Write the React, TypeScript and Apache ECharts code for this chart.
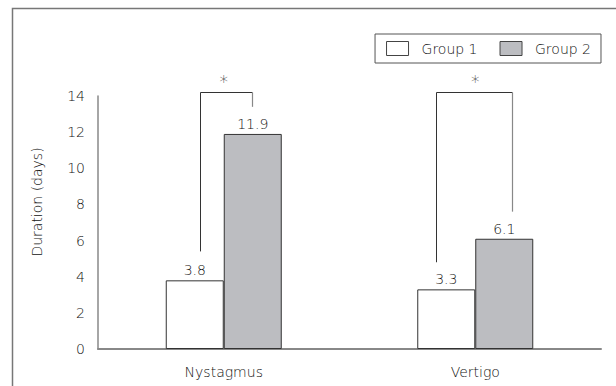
import React, { useEffect, useRef } from "react";
import * as echarts from "echarts";

const categories = ["Nystagmus", "Vertigo"];
const group1 = [3.8, 3.3];
const group2 = [11.9, 6.1];
const yTicks = [0, 2, 4, 6, 8, 10, 12, 14];
// significance brackets (value units)
const bracketTop = [14.2, 14.2];
const bracketLeftEnd = [5.4, 4.8];
const bracketRightEnd = [13.4, 7.6];
const bracketLabel = ["*", "*"];

const FONT = "DejaVu Sans";
const FW = 300;

export default function App() {
  const ref = useRef<HTMLDivElement>(null);
  useEffect(() => {
    if (!ref.current) return;
    const chart = echarts.init(ref.current, null, { renderer: "svg" });
    const leftOff = [-24, -39];
    const rightOff = [28, 37];
    const txt = { fontFamily: FONT, fontWeight: FW, color: "#111" };
    chart.setOption({
      animation: false,
      backgroundColor: "#fff",
      textStyle: { fontFamily: FONT, fontWeight: FW },
      grid: { left: 98, right: 15, top: 96, bottom: 37 },
      legend: {
        right: 15,
        top: 34,
        padding: [7, 10, 7, 11],
        borderColor: "#555",
        borderWidth: 1,
        itemWidth: 22,
        itemHeight: 14,
        itemGap: 22,
        icon: "rect",
        itemStyle: { borderWidth: 1, borderColor: "#444" },
        textStyle: { ...txt, fontSize: 14, padding: [0, 0, 0, 8] },
        data: ["Group 1", "Group 2"],
      },
      xAxis: {
        type: "category",
        data: categories,
        axisLine: { lineStyle: { color: "#888", width: 2 } },
        axisTick: { show: false },
        axisLabel: { ...txt, fontSize: 14, margin: 16 },
      },
      yAxis: {
        type: "value",
        min: 0,
        max: 14,
        interval: 2,
        axisLine: { show: true, lineStyle: { color: "#888", width: 1.5 } },
        axisTick: { show: false },
        splitLine: { show: false },
        axisLabel: {
          ...txt,
          fontSize: 14,
          margin: 13,
          formatter: (v: number) => (yTicks.includes(v) ? String(v) : ""),
        },
      },
      series: [
        {
          name: "Group 1",
          type: "bar",
          data: group1,
          barWidth: 58,
          barGap: "0%",
          itemStyle: { color: "#ffffff", borderColor: "#333", borderWidth: 1 },
          label: { show: true, position: "top", distance: 3, ...txt, fontSize: 14 },
        },
        {
          name: "Group 2",
          type: "bar",
          data: group2,
          barWidth: 58,
          barGap: "0%",
          itemStyle: { color: "#bcbdc1", borderColor: "#333", borderWidth: 1 },
          label: { show: true, position: "top", distance: 3, ...txt, fontSize: 14 },
        },
        {
          type: "custom",
          silent: true,
          data: categories.map((_, i) => [i, bracketTop[i], bracketLeftEnd[i], bracketRightEnd[i]]),
          renderItem: (params: any, api: any) => {
            const i = api.value(0);
            const top = api.coord([i, api.value(1)]);
            const le = api.coord([i, api.value(2)]);
            const re = api.coord([i, api.value(3)]);
            const cx = top[0];
            const lx = Math.round(cx + leftOff[params.dataIndex]) + 0.5;
            const rx = Math.round(cx + rightOff[params.dataIndex]) + 0.5;
            const ty = Math.round(top[1]) + 0.5;
            return {
              type: "group",
              children: [
                {
                  type: "polyline",
                  shape: { points: [[lx, le[1]], [lx, ty], [rx, ty]] },
                  style: { stroke: "#333", lineWidth: 1, fill: null },
                },
                {
                  type: "line",
                  shape: { x1: rx, y1: ty, x2: rx, y2: re[1] },
                  style: { stroke: "#888", lineWidth: 1.2 },
                },
                {
                  type: "text",
                  style: {
                    text: bracketLabel[params.dataIndex],
                    x: cx,
                    y: ty - 11,
                    align: "center",
                    verticalAlign: "middle",
                    fontSize: 17,
                    fontFamily: FONT,
                    fontWeight: FW,
                    fill: "#111",
                  },
                },
              ],
            };
          },
        },
      ],
      graphic: [
        {
          type: "rect",
          shape: { x: 12.5, y: 8.5, width: 640, height: 420 },
          style: { fill: null, stroke: "#777", lineWidth: 1.5 },
          silent: true,
        },
        {
          type: "text",
          x: 37,
          y: 202,
          rotation: Math.PI / 2,
          style: {
            text: "Duration (days)",
            align: "center",
            verticalAlign: "middle",
            fontSize: 14,
            fontFamily: FONT,
            fontWeight: FW,
            fill: "#111",
          },
        },
      ],
    });
    return () => chart.dispose();
  }, []);
  return <div ref={ref} style={{ width: 616, height: 386, position: "absolute", left: 0, top: 0 }} />;
}
